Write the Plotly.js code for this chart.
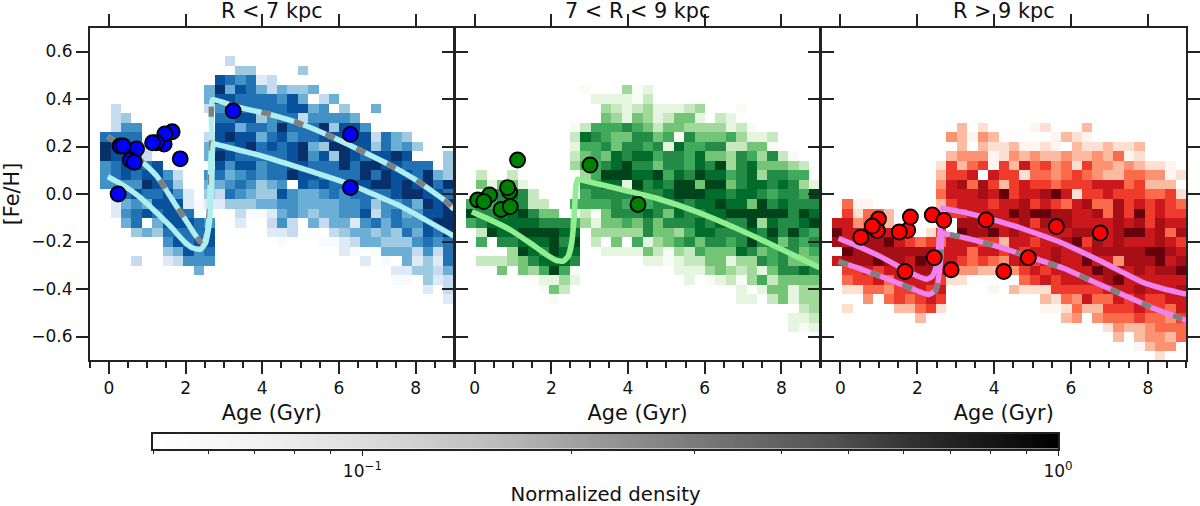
<!DOCTYPE html>
<html>
<head>
<meta charset="utf-8">
<script src="https://cdn.plot.ly/plotly-3.0.1.min.js"></script>
<style>html,body{margin:0;padding:0;background:#fff}#chart{width:1200px;height:506px}</style>
</head>
<body>
<div id="chart"></div>
<script>
// Shade levels: 1 (density 0.05) to 9 (density 1).
// Each run is [row from the top, first age bin, level, level, ...].
const blueRuns = [
[3,13,3],
[4,14,4,4],[4,20,4],
[5,12,8,7,6,7,2,3],
[6,11,5,9,5,8,7,5,3,5,4,4,5],
[7,11,5,8,8,7,7,7,7,6,8,5],[7,22,3,5],
[8,2,3],[8,11,3,6,7,7,7,7,7,7,8,8,5,6],[8,24,4],[8,27,5],
[9,2,3,4],[9,12,7,7,8,8,4,6,7,7,3,6,6,6,6,5],
[10,2,3,6,6],[10,12,8,8,5,7,7,6,9,7,7,7,9,4,8,8,6],
[11,1,7,7,7,7],[11,11,3,8,9,8,8,5,7,8,6,7,7,8,8,8,8,8,3,7,5,4],
[12,1,9,8,8,7,3],[12,11,5,8,7,8,9,7,8,7,8,9,5,4,9,9,8,8,4,7,5,6,4],
[13,1,9,8,8,7,3],[13,11,5,9,8,7,7,7,7,7,8,9,6,8,4,9,8,7,8,8,9,8],[13,34,4],
[14,1,6,7,8,8,7,8],[14,12,8,6,8,8,6,7,7,8,8,7,7,7,9,7,9,9,8,8,7,7,7],[14,34,4],
[15,1,6,7,8,7,8,8,6,3],[15,11,6,7,5,6,7,6,7,7,9,8,8,7,7,7,7,9,7,9,8,8,7,9,5,4],
[16,1,6,6,6,6,9,8,7,4],[16,11,5,5,6,7,6,4,5,6],[16,20,8,7,8,7,7,8,8,9,9,8,9,8,9,7,9],
[17,2,7,7,8,7,7,8,6,2],[17,11,4,3,7,6,5,4,4,8,6,5,5,6,7,6,7,7,7,7,8,9,9,8,8,7],
[18,2,2,5,6,5,8,8,8,2,1,2,2,4,4,4,5,5,6,6,5,5,5,5,6,6,7,4,6,6,7,5,9,8,9],
[19,2,2,6,7,8,7,8,8,7,1],[19,14,3,1,1,2,5,6,5,4,5,5,6,6,8,3,6,7,5,6,8,8,9],
[20,3,5,7],[20,6,5,8,8,8,7,6],[20,14,2],[20,17,3,6,3],[20,21,5,3,5,5,2,6,7,5,7,6,6,8,9,9],
[21,4,4,5,4,7,7,7,7,8],[21,17,2,2,3],[21,23,3,4,5,5,4,5,4,7,5,8,7,9],
[22,7,6,8,7,8,8],[22,18,1],[22,22,1,1,2,3,5,5,4,4,4,6,7,6,7],
[23,7,4,5,8,6,7],[23,24,2,1],[23,27,1,5,5,5,3,6,3,7],
[24,4,3],[24,7,2,3,6,6,6],[24,26,2],[24,28,1],[24,30,5,2,4,2,7],
[25,10,5],[25,29,2,2,4,4,3,5],
[26,29,1,1],[26,32,4,2,3],
[27,32,2],[27,34,3],
[28,34,2]
];
const greenRuns = [
[6,12,1],[6,16,4,1,2],
[7,13,2,2,2,2,1,3],
[8,14,4,3,2,3,4,2,2,2,3,4],[8,27,1],
[9,14,5,4,2,5,4,2,3,5,5,2],[9,25,3,2],
[10,11,1,3,6,6,6,7,6,5,3,5,5,4,4,4,4,2,3,1],
[11,11,3,8,7,6,5,5,7,7,5,6,1,7,5,5,5,6,4,2,2,3],
[12,11,2,6,6,7,5,7,7,6,7,2,8,6,6,7,7,3,3,5,5,1],
[13,11,3,5,6,5,8,7,8,8,6,7,7,6,8,5,5,4,7,6,4,7,3,1],
[14,11,4,6,6,7,8,9,7,7,5,7,7,6,8,7,9,4,7,8,5,5,5,4,3],
[15,2,3],[15,5,3],[15,12,4,6,9,9,9,8,8,9,6,8,7,9,8,8,6,7,8,4,7,7,6,6],
[16,2,5,2,5,5,2],[16,12,7,7,8,8,2,9,7,8,7,9,9,5,9,9,5,7,8,8,7,8,7,4,2],
[17,3,6,7,8,7,3],[17,12,6,7,7,7,7,8,7,7,8,9,9,9,8,8,7,8,8,7,6,7,7,6,9],
[18,1,6,6,6,7,7,7,3,3],[18,11,6,6,6,6,7,6,7,6,7,7,8,7,8,8,9,8,8,5,9,7,8,7,7,7],
[19,1,9,7,7,7,8,9,7,5,5],[19,12,3,1,5,7,7,7,8,7,5,8,7,7,8,8,9,9,9,9,9,9,7,9,8],
[20,1,6,7,8,8,8,8,8,7,7,7,6,4,2,5,5,6,5,7,5,7,7,7,8,7,8,7,7,9,4,8,7,7,8,9],
[21,2,3,9,8,8,9,9,9,9,8,8],[21,13,4,4,4,4,4,7,5,5,4,6,8,8,7,7,7,8,7,9,7,9,7,6],
[22,2,6],[22,4,7,7,8,8,8,9,7,9],[22,13,3],[22,15,5],[22,17,6,2,4,5,6,7,5,7,7,6,7,9,7,8,5,7,6,7],
[23,5,4,9,8,7,9,8,8],[23,14,2,2,2,2,5,3,1,4,3,6,5,5,5,8,7,5,6,7,7,5,6],
[24,2,3,3,3,4,5,7,8,8,8,7],[24,18,2,2,1,2,3,3,5,5,2,4,4,7,6,7,5,5,5],
[25,4,5],[25,6,5,4,6,9,6,1],[25,21,2,2,2,4,5,4,3,4,2,5,7,7,8,7],
[26,8,2,2,4,2],[26,22,2],[26,24,1,2,3,1,4,6,3,5,5,5,5],
[27,8,1,5,3],[27,27,2],[27,29,2,5,5,2,4,4],
[28,9,1],[28,27,2,2],[28,30,3,5,2,4,4],
[29,33,3,4],
[30,32,2,2,3],
[31,32,2,1,2]
];
const redRuns = [
[10,13,3],[10,15,2],[10,20,1,2],[10,25,3],
[11,12,4,3,1,4,3],[11,22,1,3,2,1],
[12,13,3],[12,15,3,2,2,3,1,1,2,1],[12,24,3,2,2,3,2,2,3],
[13,12,3,4,4,4,1,2,4,3,4,3,3,4,3,3,4,3,5,1,2],
[14,11,2,6,3,5,6,1,6,3,7,5,6,4,5,2,6,4,4,3,4,3,2,2,1],
[15,11,3,6,6,7],[15,16,7,6,6,2,5,5,4,5,6,5,4,3,3,5,5,4,4,1,2],
[16,11,4,7,8,5,8,6,3,6,7,6,6,5,6,6,6,7,7,7,5,6,3,3,3],
[17,11,5,7,7,7,8,7,9,6,7,7,8,9,7,2,6,6,7,6,6,6,5,5,6,2],
[18,2,5,1,1],[18,11,3,6,7,7,7,6,7,7,8,6,7,6,5,7,8,5,5,8,6,7,6,7,6,5],
[19,2,6,2,5,5,3],[19,11,2,6,6,7,7,7,7,9,8,9,9,8,8,7,7,8,5,8,6,9,6,7,6,6],
[20,1,7,7,4,5,6,3],[20,11,2],[20,13,8,8,7,7,7,7,8,6,8,8,8,7,7,7,7,8,7,8,6,8,7,7],
[21,1,9,7,7,8,7,7],[21,10,2,6],[21,13,9,8,8,9,7,8,7,7,7,7,7,8,8,7,7,8,9,9,7,8,5,8],
[22,1,8,7,8,8,8,9,7,6,5,6,5,7,7,7,6,6,3,7,7,6,7,7,8,9,6,8,7,8,7,7,7,8,7,6],
[23,2,9,8,8,8,8,8,8,8,8,7,7,7,5,7,7,6,7,6,7,7,8,7,7,7,8,8,8,8,8,9,9,8,7],
[24,1,7,8,8,8,9,8,8,7,9,8,7,7,6,5,6,5,4,7,8,6,7,8,7,7,9,7,7,4,8,8,8,9,7,8],
[25,2,6,6,7,6,7,7,7,8,8,7,5,4,4,3,3,2,4,6,7,6,7,7,7,7,9,8,8,7,8,7,8,8,9],
[26,2,5,6,6,7,5,7,7,7,7,6,2,2],[26,19,5,6,7,6,7,7,7,7,8,9,7,7,7,7,7,7],
[27,2,2,2,5,5,4,6,6,7,6,7],[27,16,1],[27,18,3,2,2,2,6,6,6,6,6,7,7,7,8,7,7,7,8],
[28,4,4],[28,6,5,6,5,6,7,6],[28,21,3,2,5,4,7,5,5,7,6,7,6,6,7,7],
[29,2,2],[29,7,3,3,5,6,2],[29,21,1,1,2,5,3,3,6,6,6,7,6,6,5,7],
[30,9,3],[30,23,3,4],[30,26,4,5,5,5,6,5,5,4,6],
[31,27,2,4,3,3,4,5,5,5],
[32,28,3],[32,30,3,4,4,3,5],
[33,30,1,3,4,4],
[34,32,2]
];

// Age-metallicity tracks and clusters: [Fe/H] against age (Gyr).
const blueUpperAge = [-0.03,0.36,0.70,0.96,1.26,1.52,1.74,2.00,2.22,2.39,2.48,2.56,2.62,2.65,2.68,2.70,3.26,4.17,5.03,5.81,6.59,7.37,8.10,8.80,9.00];
const blueUpperFeH = [0.241,0.199,0.157,0.122,0.073,0.010,-0.046,-0.109,-0.165,-0.200,-0.205,-0.165,-0.067,0.101,0.241,0.398,0.370,0.336,0.294,0.241,0.181,0.118,0.049,-0.032,-0.065];
const blueLowerAge = [-0.03,0.36,0.79,1.26,1.65,1.96,2.17,2.39,2.52,2.62,2.68,2.72,2.78,3.91,5.03,6.33,7.63,9.00];
const blueLowerFeH = [0.073,0.038,-0.011,-0.081,-0.144,-0.200,-0.226,-0.233,-0.207,-0.123,0.031,0.213,0.210,0.164,0.108,0.038,-0.053,-0.177];
const greenAge = [-0.07,0.41,0.93,1.45,1.88,2.14,2.31,2.44,2.53,2.59,2.64,2.68,2.79,3.70,4.74,5.78,6.82,7.85,9.00];
const greenFeH = [-0.074,-0.109,-0.151,-0.207,-0.256,-0.280,-0.283,-0.263,-0.207,-0.109,0.031,0.062,0.059,0.024,-0.018,-0.074,-0.144,-0.221,-0.310];
const redUpperAge = [-0.05,0.47,1.07,1.59,2.03,2.24,2.39,2.48,2.55,2.60,2.65,2.76,3.67,4.71,5.75,6.79,7.31,7.83,8.39,9.00];
const redUpperFeH = [-0.186,-0.221,-0.266,-0.312,-0.347,-0.359,-0.347,-0.312,-0.235,-0.137,-0.060,-0.063,-0.095,-0.144,-0.205,-0.284,-0.327,-0.369,-0.398,-0.422];
const redLowerAge = [-0.05,0.47,1.25,2.03,2.29,2.48,2.56,2.62,2.65,2.76,3.28,4.15,4.88,5.79,6.57,7.35,8.13,9.00];
const redLowerFeH = [-0.284,-0.312,-0.359,-0.410,-0.424,-0.406,-0.347,-0.249,-0.165,-0.168,-0.186,-0.224,-0.263,-0.312,-0.368,-0.424,-0.480,-0.532];

const blueDotAge = [0.24,3.24,6.30,6.30,1.86,1.65,1.44,1.46,1.24,1.14,0.72,0.56,0.66,0.29,0.37];
const blueDotFeH = [0.00,0.35,0.251,0.027,0.148,0.262,0.21,0.253,0.216,0.216,0.19,0.143,0.134,0.202,0.202];
const greenDotAge = [0.08,0.39,0.24,0.91,0.86,0.69,0.93,1.12,3.01,4.26];
const greenDotFeH = [-0.025,-0.004,-0.032,0.010,0.027,-0.065,-0.053,0.143,0.122,-0.044];
const redDotAge = [0.53,0.99,0.96,0.83,1.75,1.53,1.82,1.68,2.39,2.69,2.44,2.88,3.79,4.25,4.89,5.62,6.76];
const redDotFeH = [-0.182,-0.105,-0.154,-0.135,-0.153,-0.160,-0.097,-0.326,-0.088,-0.111,-0.268,-0.319,-0.109,-0.326,-0.268,-0.137,-0.164];

const panelTitles = ['R < 7 kpc','7 < R < 9 kpc','R > 9 kpc'];
const blueShades = ['#f7fbff','#deebf7','#c6dbef','#9ecae1','#6baed6','#4292c6','#2171b5','#08519c','#08306b'];
const greenShades = ['#f7fcf5','#e5f5e0','#c7e9c0','#a1d99b','#74c476','#41ab5d','#238b45','#006d2c','#00441b'];
const redShades = ['#fff5f0','#fee0d2','#fcbba1','#fc9272','#fb6a4a','#ef3b2c','#cb181d','#a50f15','#67000d'];
const greyShades = ['#ffffff','#f0f0f0','#d9d9d9','#bdbdbd','#969696','#737373','#525252','#252525','#000000'];
const barMinorTicks = [0.05,0.06,0.07,0.08,0.09,0.2,0.3,0.4,0.5,0.6,0.7,0.8,0.9];
const barMajorTicks = [0.1,1];
const barMajorLabels = ['10<sup>\u22121</sup>','10<sup>0</sup>'];

const nBins = 35;
const ageCentres = [], fehCentres = [];
for (let k = 0; k < nBins; k++) {
  ageCentres.push(-0.5 + (k + 0.5) * 9.5 / nBins);
  fehCentres.push(0.7 - (k + 0.5) * 1.4 / nBins);
}
function grid(runs) {
  const z = [];
  for (let r = 0; r < nBins; r++) z.push(new Array(nBins).fill(null));
  runs.forEach(run => { for (let k = 2; k < run.length; k++) z[run[0]][run[1] + k - 2] = run[k]; });
  return z;
}
function scale(shades) { return shades.map((c, k) => [k / (shades.length - 1), c]); }

const W = 1200, H = 506;
const FONT = 'DejaVu Sans';
const INK = '#222';
// Domains are inset so that the outward-drawn axis lines of neighbouring panels coincide.
const panelsPx = [[89.75, 453.95], [455.45, 819.75], [821.25, 1186.25]];
const yDomain = [1 - 360.25 / H, 1 - 27.75 / H];

function heat(runs, shades, xa, ya) {
  return {type:'heatmap', x:ageCentres, y:fehCentres, z:grid(runs), zmin:1, zmax:9, xaxis:xa, yaxis:ya,
    colorscale:scale(shades), showscale:false, hoverinfo:'skip'};
}
function track(x, y, xa, ya, color, w, dash) {
  return {type:'scatter', mode:'lines', x, y, xaxis:xa, yaxis:ya, hoverinfo:'skip', showlegend:false,
    line:{color, width:w, shape:'spline', smoothing:0.4, dash:dash || 'solid'}};
}
function dots(x, y, xa, ya, color) {
  return {type:'scatter', mode:'markers', x, y, xaxis:xa, yaxis:ya, showlegend:false,
    marker:{color, size:15, line:{color:'#000', width:1.9}}};
}
const GAP = '10px,24px';
const barX = [], barZ = [];
for (let k = 0; k <= 240; k++) { const t = k / 240; barX.push(0.05 * Math.pow(20, t)); barZ.push(t); }

const data = [
  heat(blueRuns, blueShades, 'x', 'y'),
  track(blueUpperAge, blueUpperFeH, 'x', 'y', '#afeeee', 5.4),
  track(blueUpperAge, blueUpperFeH, 'x', 'y', '#808080', 5.4, GAP),
  track(blueLowerAge, blueLowerFeH, 'x', 'y', '#afeeee', 5.4),
  dots(blueDotAge, blueDotFeH, 'x', 'y', '#0000ff'),
  heat(greenRuns, greenShades, 'x2', 'y2'),
  track(greenAge, greenFeH, 'x2', 'y2', '#90ee90', 5.6),
  dots(greenDotAge, greenDotFeH, 'x2', 'y2', '#008000'),
  heat(redRuns, redShades, 'x3', 'y3'),
  track(redUpperAge, redUpperFeH, 'x3', 'y3', '#ee82ee', 5.4),
  track(redLowerAge, redLowerFeH, 'x3', 'y3', '#ee82ee', 5.4),
  track(redLowerAge, redLowerFeH, 'x3', 'y3', '#808080', 5.4, GAP),
  dots(redDotAge, redDotFeH, 'x3', 'y3', '#ff0000'),
  {type:'heatmap', x:barX, y:[0, 1], z:[barZ, barZ], zmin:0, zmax:1, xaxis:'x4', yaxis:'y4',
    colorscale:scale(greyShades), showscale:false, hoverinfo:'skip'},
  // invisible traces that activate the top tick axes
  {type:'scatter', mode:'markers', x:[0], y:[0], xaxis:'x5', yaxis:'y', marker:{opacity:0}, hoverinfo:'skip', showlegend:false},
  {type:'scatter', mode:'markers', x:[0], y:[0], xaxis:'x6', yaxis:'y2', marker:{opacity:0}, hoverinfo:'skip', showlegend:false},
  {type:'scatter', mode:'markers', x:[0], y:[0], xaxis:'x7', yaxis:'y3', marker:{opacity:0}, hoverinfo:'skip', showlegend:false}
];

function xAxis(k, anchor) {
  return {domain:[panelsPx[k][0] / W, panelsPx[k][1] / W], anchor, range:[-0.5, 9], showgrid:false, zeroline:false,
    showline:true, linecolor:INK, linewidth:1.5, ticks:'outside', ticklen:12, tickwidth:1.5, tickcolor:INK,
    tick0:0, dtick:2, tickfont:{family:FONT, size:17, color:'#111'},
    minor:{ticks:'outside', ticklen:6, tickwidth:1.5, tickcolor:INK, dtick:0.5, tick0:0, showgrid:false},
    title:{text:'Age (Gyr)', font:{family:FONT, size:20.8, color:'#111'}, standoff:8}};
}
function topAxis(k, over, anchor) {
  return {domain:[panelsPx[k][0] / W, panelsPx[k][1] / W], anchor, overlaying:over, side:'top', range:[-0.5, 9],
    showgrid:false, zeroline:false, showline:true, linecolor:INK, linewidth:1.5, ticks:'outside', ticklen:12,
    tickwidth:1.5, tickcolor:INK, tick0:0, dtick:2, showticklabels:false};
}
function yAxis(anchor, labels) {
  return {domain:yDomain, anchor, range:[-0.7, 0.7], showgrid:false, zeroline:false, showline:true, mirror:'ticks',
    linecolor:INK, linewidth:1.5, ticks:'outside', ticklen:12, tickwidth:1.5, tickcolor:INK, tick0:0, dtick:0.2,
    tickformat:'.1f', showticklabels:labels, tickfont:{family:FONT, size:17, color:'#111'}};
}
const yLeft = yAxis('x', true);
yLeft.title = {text:'[Fe/H]', font:{family:FONT, size:20.8, color:'#111'}, standoff:6};

const layout = {
  width:W, height:H, margin:{l:0, r:0, t:0, b:0}, paper_bgcolor:'#fff', plot_bgcolor:'#fff', showlegend:false,
  font:{family:FONT, color:'#111'},
  xaxis:xAxis(0, 'y'), xaxis2:xAxis(1, 'y2'), xaxis3:xAxis(2, 'y3'),
  xaxis5:topAxis(0, 'x', 'y'), xaxis6:topAxis(1, 'x2', 'y2'), xaxis7:topAxis(2, 'x3', 'y3'),
  yaxis:yLeft, yaxis2:yAxis('x2', false), yaxis3:yAxis('x3', false),
  xaxis4:{domain:[153 / W, 1058 / W], anchor:'y4', type:'log', range:[Math.log10(0.05), 0], showgrid:false, zeroline:false,
    showline:true, mirror:true, linecolor:INK, linewidth:1.5, ticks:'outside', ticklen:6, tickwidth:1.2, tickcolor:INK,
    tickmode:'array', tickvals:barMajorTicks, ticktext:barMajorLabels, tickfont:{family:FONT, size:17, color:'#111'},
    minor:{ticks:'outside', ticklen:3.5, tickwidth:1, tickcolor:INK, tickmode:'array', tickvals:barMinorTicks, showgrid:false},
    title:{text:'Normalized density', font:{family:FONT, size:19.7, color:'#111'}, standoff:9}},
  yaxis4:{domain:[1 - 448.5 / H, 1 - 433.5 / H], anchor:'x4', range:[0, 1], showgrid:false, zeroline:false, showline:true,
    mirror:true, linecolor:INK, linewidth:1.5, ticks:'', showticklabels:false},
  annotations:panelTitles.map((t, k) => ({text:t, xref:'paper', yref:'paper', x:(panelsPx[k][0] + panelsPx[k][1]) / 2 / W,
    y:1 - 11 / H, xanchor:'center', yanchor:'middle', showarrow:false, borderpad:0, font:{family:FONT, size:20.8, color:'#111'}}))
};
Plotly.newPlot('chart', data, layout, {displayModeBar:false, responsive:false});
</script>
</body>
</html>
